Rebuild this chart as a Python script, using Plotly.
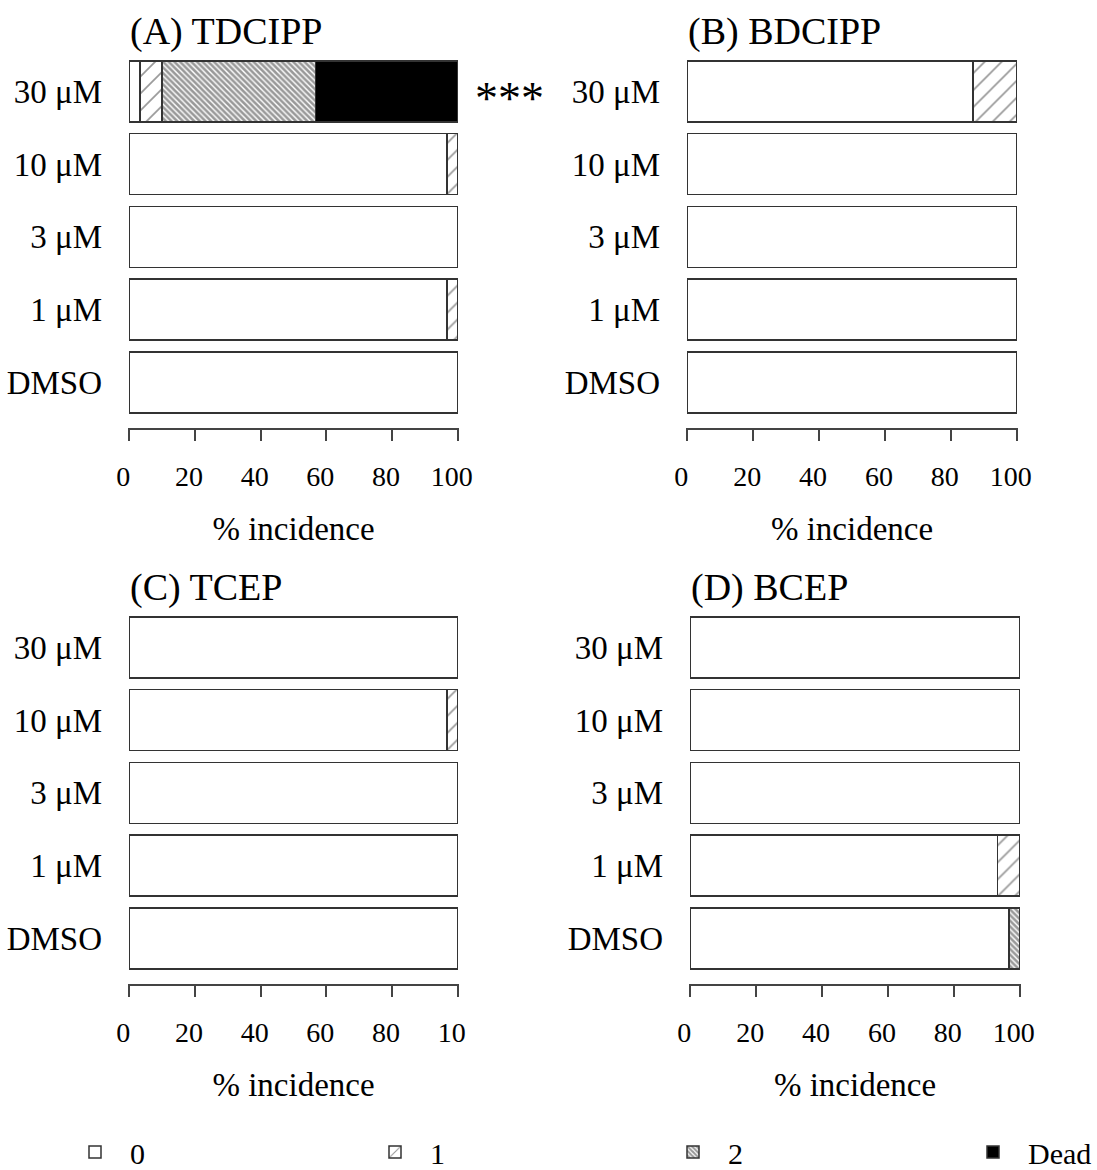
import plotly.graph_objects as go

categories = ["DMSO", "1 μM", "3 μM", "10 μM", "30 μM"]
score_labels = ["0", "1", "2", "Dead"]

# % incidence per score, bottom (DMSO) to top (30 μM)
tdcipp = {"0": [100, 96.7, 100, 96.7, 3.3], "1": [0, 3.3, 0, 3.3, 6.7],
          "2": [0, 0, 0, 0, 46.7], "Dead": [0, 0, 0, 0, 43.3]}
bdcipp = {"0": [100, 100, 100, 100, 86.7], "1": [0, 0, 0, 0, 13.3],
          "2": [0, 0, 0, 0, 0], "Dead": [0, 0, 0, 0, 0]}
tcep = {"0": [100, 100, 100, 96.7, 100], "1": [0, 0, 0, 3.3, 0],
        "2": [0, 0, 0, 0, 0], "Dead": [0, 0, 0, 0, 0]}
bcep = {"0": [96.7, 93.3, 100, 100, 100], "1": [0, 6.7, 0, 0, 0],
        "2": [3.3, 0, 0, 0, 0], "Dead": [0, 0, 0, 0, 0]}

panel_titles = ["(A) TDCIPP", "(B) BDCIPP", "(C) TCEP", "(D) BCEP"]
x_ticks = [0, 20, 40, 60, 80, 100]
x_ticktext_std = ["0", "20", "40", "60", "80", "100"]
x_ticktext_c = ["0", "20", "40", "60", "80", "10"]

FONT = "Liberation Serif"
W, H = 1097, 1170

styles = {
    "0": dict(color="white"),
    "1": dict(color="white", pattern=dict(shape="/", fgcolor="#333", bgcolor="white", size=12, solidity=0.14)),
    "2": dict(color="white", pattern=dict(shape="\\", fgcolor="#333", bgcolor="white", size=4, solidity=0.65)),
    "Dead": dict(color="black"),
}

# panel pixel boxes: (x0, x1, ytop, ybottom)
boxes = [(128, 459, 55, 428), (686, 1018, 55, 428),
         (128, 459, 611, 984), (689, 1021, 611, 984)]
datasets = [tdcipp, bdcipp, tcep, bcep]
legend_names = ["legend", "legend2", "legend3", "legend4"]
legend_x = [60, 360, 658, 958]

fig = go.Figure()
for i, (data, box) in enumerate(zip(datasets, boxes)):
    xa = "x" if i == 0 else f"x{i+1}"
    ya = "y" if i == 0 else f"y{i+1}"
    for k, s in enumerate(score_labels):
        vals = [v if v > 0 else None for v in data[s]]
        mk = dict(styles[s])
        mk["line"] = dict(color="#333", width=1.5)
        fig.add_trace(go.Bar(
            x=vals, y=categories, orientation="h", name=s,
            marker=mk, xaxis=xa, yaxis=ya, showlegend=(i == 0),
            legend=legend_names[k], legendgroup=s, hoverinfo="x+y+name"))
    x0, x1, yt, yb = box
    rng_low = 4.5 - (yb - yt) / 72.75
    layout_x = dict(
        domain=[x0 / W, x1 / W], range=[-0.4, 100.4], anchor=ya,
        showline=True, linecolor="#444", linewidth=1.5, ticks="outside",
        ticklen=11, tickwidth=1.5, tickcolor="#444", tickvals=x_ticks,
        ticktext=x_ticktext_c if i == 2 else x_ticktext_std,
        showgrid=False, zeroline=False, ticklabelstandoff=12, ticklabelshift=-6,
        automargin=False,
        tickfont=dict(family=FONT, size=28, color="black"),
        title=dict(text="% incidence", font=dict(family=FONT, size=33, color="black"), standoff=26),
    )
    layout_y = dict(
        domain=[1 - yb / H, 1 - yt / H], anchor=xa, type="category",
        categoryorder="array", categoryarray=categories,
        range=[rng_low, 4.5], showline=False, ticks="", showgrid=False,
        zeroline=False, ticklabelstandoff=25, automargin=False,
        tickfont=dict(family=FONT, size=33, color="black"),
    )
    fig.update_layout(**{("xaxis" if i == 0 else f"xaxis{i+1}"): layout_x,
                         ("yaxis" if i == 0 else f"yaxis{i+1}"): layout_y})
    fig.add_annotation(text=panel_titles[i], x=x0 / W, y=1 - (yt - 24) / H,
                       xref="paper", yref="paper", xanchor="left", yanchor="middle",
                       showarrow=False, font=dict(family=FONT, size=38, color="black"))

fig.add_annotation(text="***", x=1.154, y="30 μM", xref="x domain", yref="y",
                   xanchor="center", yanchor="middle", showarrow=False, yshift=-7,
                   font=dict(family=FONT, size=46, color="black"))

legend_common = dict(orientation="h", yanchor="middle", xanchor="left",
                     font=dict(family=FONT, size=30, color="black"), itemwidth=60,
                     bgcolor="rgba(0,0,0,0)")
fig.update_layout(
    width=W, height=H, barmode="stack", bargap=0.162,
    margin=dict(l=0, r=0, t=0, b=0, autoexpand=False),
    paper_bgcolor="white", plot_bgcolor="white",
    **{name: dict(legend_common, x=legend_x[k] / W, y=1 - 1152 / H)
       for k, name in enumerate(legend_names)},
)

fig.write_html("out.html", config={"displayModeBar": False},
               post_script="document.body.style.margin='0px';")
